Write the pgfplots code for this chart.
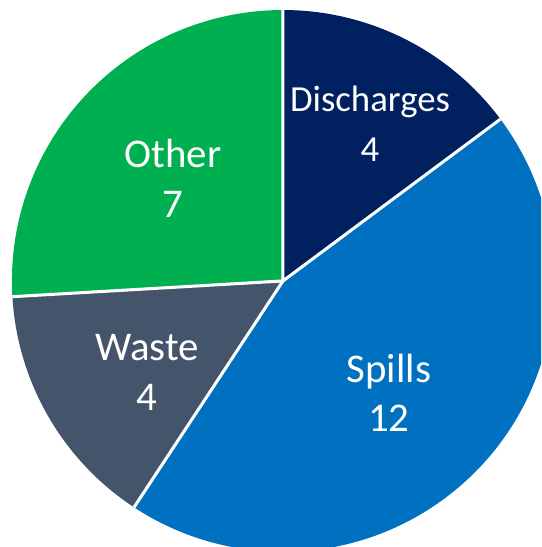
\documentclass[border=0pt]{standalone}
\usepackage{pgfplots}
\pgfplotsset{compat=1.18}
\usepackage{fontspec}
\setmainfont{Carlito}
\definecolor{cDis}{HTML}{002060}
\definecolor{cSpi}{HTML}{0070C0}
\definecolor{cWas}{HTML}{44546A}
\definecolor{cOth}{HTML}{00B050}
% values: Discharges 4, Spills 12, Waste 4, Other 7 (total 27)
% angles (clockwise from 90): 90 -> 36.667 -> -123.333 -> -176.667 -> -270
\begin{document}
\begin{tikzpicture}
\begin{axis}[
  width=7.5cm, height=7.583cm, scale only axis,
  xmin=-1.044, xmax=0.952, ymin=-0.982, ymax=1.037,
  hide axis, clip=true,
]
\path (rel axis cs:0,0) rectangle (rel axis cs:1,1);
\fill[cDis] (axis cs:0,0) -- (axis cs:0,1) arc[start angle=90, end angle=36.667, radius=1] -- cycle;
\fill[cSpi] (axis cs:0,0) -- (axis cs:{cos(36.667)},{sin(36.667)}) arc[start angle=36.667, end angle=-123.333, radius=1] -- cycle;
\fill[cWas] (axis cs:0,0) -- (axis cs:{cos(-123.333)},{sin(-123.333)}) arc[start angle=-123.333, end angle=-176.667, radius=1] -- cycle;
\fill[cOth] (axis cs:0,0) -- (axis cs:{cos(-176.667)},{sin(-176.667)}) arc[start angle=-176.667, end angle=-270, radius=1] -- cycle;
\draw[white, line width=1.2pt] (axis cs:0,1) -- (axis cs:0,0) -- (axis cs:{cos(36.667)},{sin(36.667)});
\draw[white, line width=1.2pt] (axis cs:0,0) -- (axis cs:{cos(-123.333)},{sin(-123.333)});
\draw[white, line width=1.2pt] (axis cs:0,0) -- (axis cs:{cos(-176.667)},{sin(-176.667)});
\node[white, align=center, font=\fontsize{14.5}{19.7}\selectfont] at (axis cs:0.321,0.579) {Discharges\\4};
\node[white, align=center, font=\fontsize{16.1}{19.7}\selectfont] at (axis cs:0.391,-0.413) {Spills\\12};
\node[white, align=center, font=\fontsize{16.1}{19.7}\selectfont] at (axis cs:-0.502,-0.339) {Waste\\4};
\node[white, align=center, font=\fontsize{16.1}{19.7}\selectfont] at (axis cs:-0.406,0.380) {Other\\7};
\end{axis}
\end{tikzpicture}
\end{document}
